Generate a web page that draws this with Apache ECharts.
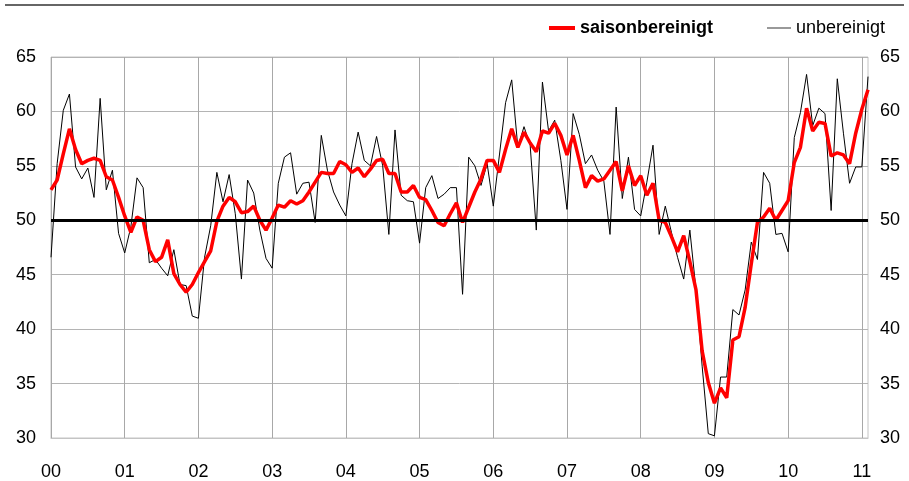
<!DOCTYPE html>
<html>
<head>
<meta charset="utf-8">
<script src="https://cdn.jsdelivr.net/npm/echarts@6/dist/echarts.min.js"></script>
<style>
  html, body { margin: 0; padding: 0; background: #fff; }
  #main { width: 909px; height: 481px; }
</style>
</head>
<body>
<div id="main"></div>
<script>
// year labels on the x axis, one category per month from Jan 2000 to Feb 2011
var yearLabels = ['00', '01', '02', '03', '04', '05', '06', '07', '08', '09', '10', '11'];
var monthCount = 134;

var saisonbereinigt = [
    52.8, 53.7, 56.1, 58.4, 56.5, 55.2, 55.5, 55.7, 55.5, 54.0, 53.7, 52.1,
    50.4, 48.9, 50.3, 50.0, 47.3, 46.2, 46.6, 48.2, 45.1, 44.1, 43.4, 44.1,
    45.2, 46.2, 47.2, 49.9, 51.3, 52.1, 51.7, 50.7, 50.8, 51.3, 50.0, 49.1,
    50.2, 51.4, 51.2, 51.8, 51.5, 51.8, 52.6, 53.5, 54.4, 54.3, 54.3, 55.4,
    55.1, 54.4, 54.8, 54.0, 54.7, 55.5, 55.6, 54.3, 54.3, 52.6, 52.6, 53.2,
    52.1, 51.9, 50.9, 49.8, 49.5, 50.6, 51.6, 49.8, 51.2, 52.6, 53.8, 55.5,
    55.5, 54.4, 56.5, 58.4, 56.7, 58.1, 57.1, 56.3, 58.2, 58.0, 58.9, 57.8,
    56.0, 57.8, 55.5, 53.0, 54.1, 53.6, 53.8, 54.6, 55.4, 52.7, 55.0, 53.2,
    54.1, 52.3, 53.4, 50.0, 49.8, 48.5, 47.1, 48.6, 46.2, 43.6, 38.0, 35.1,
    33.2, 34.6, 33.7, 39.0, 39.3, 42.0, 46.0, 49.8, 50.3, 51.1, 50.0, 50.9,
    51.8, 55.3, 56.7, 60.3, 58.2, 59.0, 58.9, 55.9, 56.2, 56.0, 55.2, 58.0,
    60.2, 62.0
];

var unbereinigt = [
    46.6, 55.2, 60.1, 61.6, 54.9, 53.8, 54.8, 52.1, 61.2, 52.8, 54.6, 48.8,
    47.0, 49.4, 53.9, 53.0, 46.1, 46.4, 45.6, 44.9, 47.3, 44.1, 44.0, 41.2,
    41.0, 46.6, 49.5, 54.4, 51.7, 54.2, 50.6, 44.6, 53.7, 52.5, 49.1, 46.5,
    45.6, 53.4, 55.8, 56.2, 52.4, 53.4, 53.5, 49.8, 57.8, 54.6, 52.6, 51.4,
    50.4, 55.2, 58.1, 55.5, 55.0, 57.7, 55.0, 48.7, 58.3, 52.3, 51.8, 51.7,
    47.9, 53.0, 54.1, 52.0, 52.4, 53.0, 53.0, 43.2, 55.8, 55.0, 53.2, 55.2,
    51.3, 56.0, 60.8, 62.9, 56.7, 58.6, 56.9, 49.1, 62.7, 58.2, 59.2, 55.5,
    51.0, 59.8, 57.9, 55.2, 56.0, 54.6, 53.6, 48.7, 60.4, 52.0, 55.8, 51.0,
    50.4, 53.5, 56.9, 48.7, 51.3, 48.9, 46.6, 44.6, 49.1, 43.6, 36.6, 30.4,
    30.2, 35.6, 35.6, 41.8, 41.3, 43.6, 48.0, 46.4, 54.4, 53.4, 48.7, 48.8,
    47.1, 57.6, 59.9, 63.4, 58.7, 60.3, 59.8, 50.9, 63.0, 58.0, 53.4, 54.9,
    54.9, 63.2
];

var categories = [];
for (let i = 0; i < monthCount; i++) {
    categories.push(yearLabels[Math.floor(i / 12)] + '-' + (i % 12 + 1));
}

var font = "'Liberation Sans', Arial, sans-serif";
function yearStart(index) {
    return index % 12 === 0;
}

var chart = echarts.init(document.getElementById('main'));
chart.setOption({
    animation: false,
    textStyle: { fontFamily: font },
    graphic: [{
        type: 'line',
        shape: { x1: 5, y1: 5, x2: 904, y2: 5 },
        style: { stroke: '#333', lineWidth: 1.5 }
    }],
    // two legends so each icon can get its own thickness
    legend: [{
        left: 544,
        top: 14,
        icon: 'rect',
        itemWidth: 26,
        itemHeight: 4,
        itemGap: 6,
        textStyle: { fontSize: 18, fontWeight: 'bold', color: '#000', fontFamily: font },
        data: [{ name: 'saisonbereinigt', itemStyle: { color: '#ff0000' } }]
    }, {
        left: 762,
        top: 14,
        icon: 'rect',
        itemWidth: 24,
        itemHeight: 1.5,
        textStyle: { fontSize: 18, color: '#000', fontFamily: font },
        data: [{ name: 'unbereinigt', itemStyle: { color: '#777' } }]
    }],
    grid: {
        left: 51,
        right: 41,
        top: 57,
        bottom: 43,
        show: true,
        borderColor: '#c4c4c4',
        borderWidth: 1
    },
    xAxis: {
        type: 'category',
        data: categories,
        boundaryGap: false,
        axisTick: { show: false },
        axisLine: { lineStyle: { color: '#c4c4c4' } },
        axisLabel: {
            interval: yearStart,
            formatter: function (value) {
                return value.split('-')[0];
            },
            fontSize: 18,
            color: '#000',
            margin: 25
        },
        splitLine: {
            show: true,
            interval: yearStart,
            lineStyle: { color: '#a8a8a8', width: 1 }
        }
    },
    yAxis: [{
        type: 'value',
        min: 30,
        max: 65,
        interval: 5,
        position: 'left',
        axisLine: { show: false },
        axisTick: { show: false },
        axisLabel: { fontSize: 18, color: '#000', margin: 15 },
        splitLine: { lineStyle: { color: '#b4b4b4', width: 1 } }
    }, {
        type: 'value',
        min: 30,
        max: 65,
        interval: 5,
        position: 'right',
        axisLine: { show: false },
        axisTick: { show: false },
        axisLabel: { fontSize: 18, color: '#000', margin: 12 },
        splitLine: { show: false }
    }],
    series: [{
        name: 'unbereinigt',
        type: 'line',
        data: unbereinigt,
        symbol: 'none',
        z: 2,
        lineStyle: { color: '#000', width: 1 },
        itemStyle: { color: '#000' },
        markLine: {
            silent: true,
            symbol: 'none',
            label: { show: false },
            lineStyle: { color: '#000', width: 3, type: 'solid' },
            data: [{ yAxis: 50 }]
        }
    }, {
        name: 'saisonbereinigt',
        type: 'line',
        data: saisonbereinigt,
        symbol: 'none',
        z: 4,
        lineStyle: { color: '#ff0000', width: 3.5 },
        itemStyle: { color: '#ff0000' }
    }]
});
</script>
</body>
</html>
